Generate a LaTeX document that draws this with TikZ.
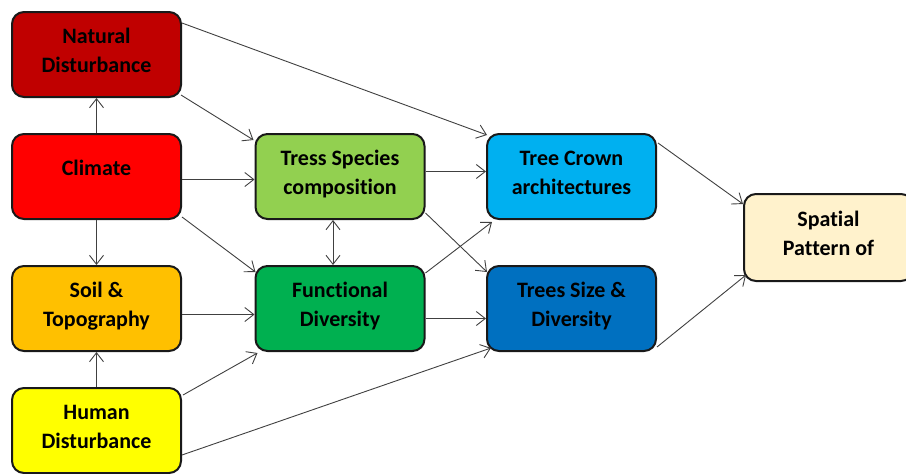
\documentclass[tikz,border=0pt]{standalone}
\usepackage{fontspec}
\setmainfont{Carlito}[Ligatures=NoCommon]
\usetikzlibrary{arrows.meta,calc}
\definecolor{cNat}{HTML}{C00000}
\definecolor{cClim}{HTML}{FF0000}
\definecolor{cSoil}{HTML}{FFC000}
\definecolor{cHum}{HTML}{FFFF00}
\definecolor{cSpec}{HTML}{92D050}
\definecolor{cFunc}{HTML}{00B050}
\definecolor{cCrown}{HTML}{00B0F0}
\definecolor{cSize}{HTML}{0070C0}
\definecolor{cSpat}{HTML}{FFF2CC}
\definecolor{cLine}{HTML}{404040}
\tikzset{
  box/.style={draw=black!90, line width=2pt, rounded corners=12pt,
    minimum width=169pt, minimum height=85pt, align=center,
    text height=44pt, text depth=9pt,
    font=\fontsize{22}{29}\selectfont\bfseries, inner sep=0pt},
  conn/.style={draw=cLine, line width=0.9pt, -{Straight Barb[length=9pt,width=14pt]}},
  conn2/.style={draw=cLine, line width=0.9pt, {Straight Barb[length=9pt,width=14pt]}-{Straight Barb[length=9pt,width=14pt]}}
}
\begin{document}
\begin{tikzpicture}[x=1pt,y=-1pt]
\useasboundingbox (0,0) rectangle (906,474);
\node[box, fill=cNat] (nat) at (96.5,54.5) {Natural\\Disturbance};
\node[box, fill=cClim, text height=10pt, text depth=13pt] (clim) at (96.5,176.5) {Climate};
\node[box, fill=cSoil] (soil) at (96.5,308.5) {Soil \&\\Topography};
\node[box, fill=cHum] (hum) at (96.5,430.5) {Human\\Disturbance};
\node[box, fill=cSpec] (spec) at (340,176.5) {Tress Species\\composition};
\node[box, fill=cFunc] (func) at (340,308.5) {Functional\\Diversity};
\node[box, fill=cCrown] (crown) at (571.5,176.5) {Tree Crown\\architectures};
\node[box, fill=cSize] (size) at (571.5,308.5) {Trees Size \&\\Diversity};
\node[box, fill=cSpat, minimum height=87pt] (spat) at (828.5,237.5) {Spatial\\Pattern of};

\draw[conn] (clim.north) -- (nat.south);
\draw[conn] (clim.south) -- (soil.north);
\draw[conn] (hum.north) -- (soil.south);
\draw[conn] ($(nat.north east)+(0,12)$) -- ($(crown.north west)+(1,2)$);
\draw[conn] ($(nat.south east)+(-1,-3)$) -- ($(spec.north west)+(-1,7)$);
\draw[conn] ($(clim.east)+(0,3)$) -- ($(spec.west)+(0,3)$);
\draw[conn] ($(clim.south east)+(0,-3)$) -- ($(func.north west)+(1,7)$);
\draw[conn] ($(soil.east)+(0,6)$) -- ($(func.west)+(0,6)$);
\draw[conn] ($(hum.north east)+(1,8)$) -- ($(func.south west)+(3,1)$);
\draw[conn] ($(hum.south east)+(0,-19)$) -- ($(size.south west)+(5,-4)$);
\draw[conn] ($(spec.east)+(0,-5)$) -- ($(crown.west)+(0,-5)$);
\draw[conn2] ($(spec.south)+(-7,0)$) -- ($(func.north)+(-7,0)$);
\draw[conn] ($(spec.south east)+(0,-7)$) -- ($(size.north west)+(1,7)$);
\draw[conn] ($(func.north east)+(0,8)$) -- ($(crown.south west)+(6,2)$);
\draw[conn] ($(func.east)+(0,10)$) -- ($(size.west)+(0,10)$);
\draw[conn] ($(crown.north east)+(1,10)$) -- ($(spat.north west)+(0,11)$);
\draw[conn] ($(size.south east)+(0,-5)$) -- ($(spat.south west)+(3,-7)$);
\end{tikzpicture}
\end{document}
